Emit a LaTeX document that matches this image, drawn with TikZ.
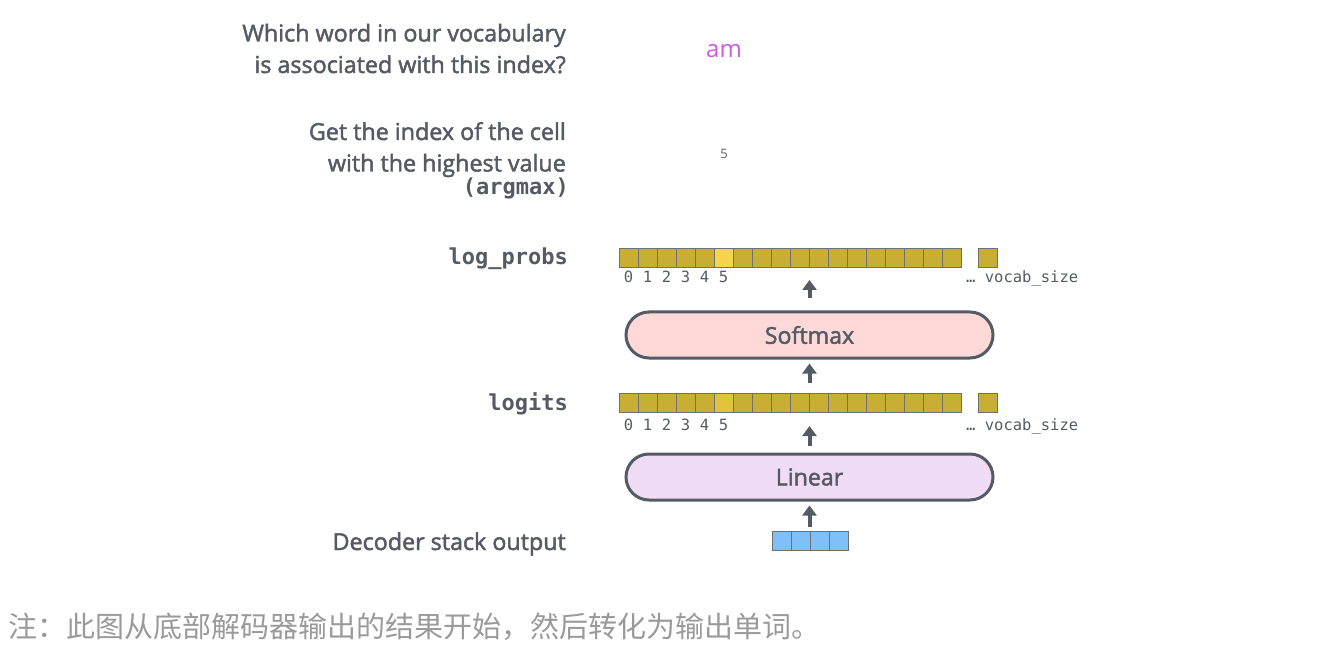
\documentclass[tikz,border=0pt]{standalone}
\usepackage{fontspec}
\setmainfont{Open Sans}
\newfontfamily\sbf{Open Sans}[FakeBold=2]
\newfontfamily\monof{DejaVu Sans Mono}
\newfontfamily\cjkf{Noto Sans CJK SC}
\usetikzlibrary{arrows.meta}
\definecolor{txt}{HTML}{555B64}
\definecolor{gold}{HTML}{C9AE35}
\definecolor{hilp}{HTML}{F7D54A}
\definecolor{hilg}{HTML}{E2C23D}
\definecolor{cellb}{HTML}{6F7070}
\definecolor{bluec}{HTML}{80BFF7}
\definecolor{pinkf}{HTML}{FFD8D8}
\definecolor{lavf}{HTML}{F1DCF6}
\definecolor{purp}{HTML}{C95AE2}
\definecolor{capg}{HTML}{9A9A9A}
\tikzset{
  cell/.style={draw=cellb, line width=0.8pt, fill=gold, minimum width=19pt, minimum height=19pt, inner sep=0pt},
  layer/.style={draw=txt, line width=3pt, rounded corners=23pt, minimum width=367pt, minimum height=46pt, inner sep=0pt, text=txt, font=\sbf\fontsize{23.2}{26}\selectfont},
  arr/.style={draw=txt, line width=4pt, -{Triangle[width=14pt,length=10pt]}},
  lbl/.style={text=txt, font=\sbf\fontsize{23.3}{31}\selectfont, align=right, inner sep=0pt},
  mlbl/.style={text=txt, font=\monof\bfseries\fontsize{22}{26}\selectfont, inner sep=0pt},
  idx/.style={text=txt, font=\monof\fontsize{15.5}{18}\selectfont, inner sep=0pt},
}
\begin{document}
\begin{tikzpicture}[x=1pt,y=-1pt]
\useasboundingbox (0,0) rectangle (1320,652);
% log_probs row
\foreach \i in {0,...,17} \node[cell] (lp\i) at ({628.5+19*\i},257.5) {};
\node[cell, fill=hilp] (lp5) at ({628.5+19*5},257.5) {};
\node[cell] (lpv) at (988,257.5) {};
\foreach \i in {0,...,5} \node[idx, anchor=base] (lpi\i) at ({628.5+19*\i},283) {\i};
\node[idx, anchor=base west] (lpvs) at (966,283) {… vocab\_size};
% logits row
\foreach \i in {0,...,17} \node[cell] (lg\i) at ({628.5+19*\i},402.5) {};
\node[cell, fill=hilg] (lg5) at ({628.5+19*5},402.5) {};
\node[cell] (lgv) at (988,402.5) {};
\foreach \i in {0,...,5} \node[idx, anchor=base] (lgi\i) at ({628.5+19*\i},430) {\i};
\node[idx, anchor=base west] (lgvs) at (966,430) {… vocab\_size};
% decoder output
\foreach \i in {0,...,3} \node[cell, fill=bluec] (d\i) at ({781.5+19*\i},540.5) {};
\coordinate (dtop) at (809.5,531);
% layers
\node[layer, fill=pinkf] (soft) at (809.5,335) {Softmax};
\node[layer, fill=lavf] (lin) at (809.5,477) {Linear};
\coordinate (lptop) at (809.5,267);
\coordinate (lgtop) at (809.5,393);
\coordinate (lgbot) at (809.5,412);
% arrows
\draw[arr, shorten <=4pt, shorten >=4pt] (dtop) -- (lin.south);
\draw[arr, shorten <=7pt, shorten >=14pt] (lin.north) -- (lgbot);
\draw[arr, shorten <=10pt, shorten >=4pt] (lgtop) -- (soft.south);
\draw[arr, shorten <=12pt, shorten >=13pt] (soft.north) -- (lptop);
% left labels
\node[mlbl, anchor=base east] (lplab) at (568,265) {log\_probs};
\node[mlbl, anchor=base east] (lglab) at (568,410) {logits};
\node[lbl, anchor=base east] (declab) at (566,550) {Decoder stack output};
\node[lbl, anchor=base east] (g1) at (566,140) {Get the index of the cell};
\node[lbl, anchor=base east] (g2) at (566,171.5) {with the highest value};
\node[mlbl, anchor=base east] (g3) at (569,195) {(argmax)};
\node[lbl, anchor=base east] (w1) at (566,41.5) {Which word in our vocabulary};
\node[lbl, anchor=base east] (w2) at (566,73) {is associated with this index?};
% right values
\node[text=purp, font=\fontsize{24}{28}\selectfont, anchor=base, inner sep=0pt] (am) at (724,58) {am};
\node[text=txt, font=\fontsize{13}{15}\selectfont, anchor=base, inner sep=0pt] (five) at (724,159) {5};
% caption
\node[text=capg, font=\cjkf\fontsize{29}{32}\selectfont, anchor=base west, inner sep=0pt] (cap) at (8,637) {注：此图从底部解码器输出的结果开始，然后转化为输出单词。};
\end{tikzpicture}
\end{document}
